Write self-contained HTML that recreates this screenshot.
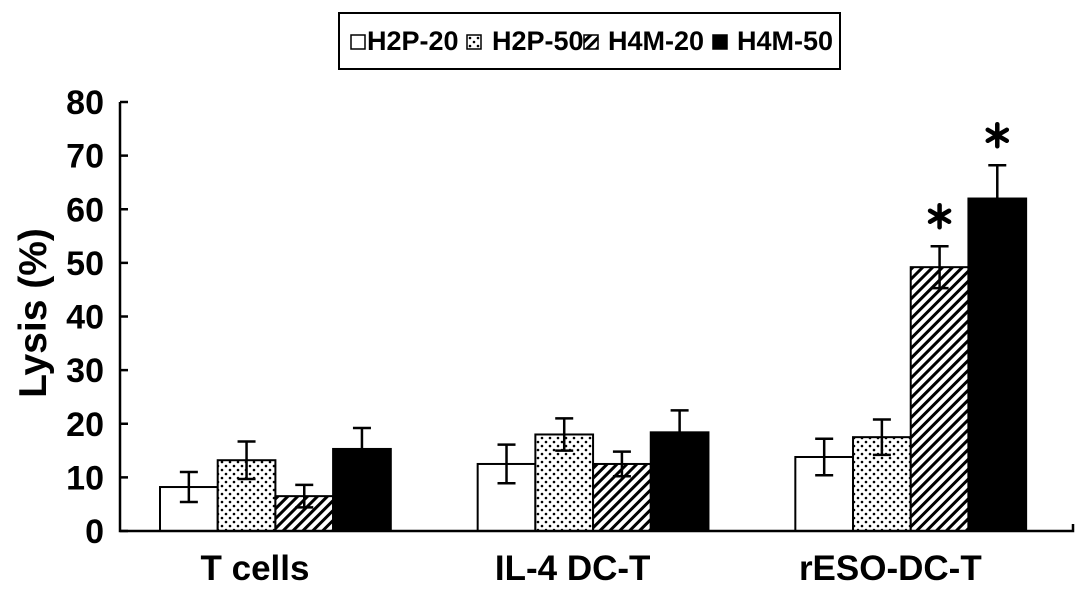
<!DOCTYPE html>
<html><head><meta charset="utf-8"><style>
html,body{margin:0;padding:0;background:#fff;}
svg{display:block;font-family:"Liberation Sans",Arial,sans-serif;font-weight:bold;}
</style></head><body>
<svg id="chart" width="1087" height="599" viewBox="0 0 1087 599" xmlns="http://www.w3.org/2000/svg">
<defs>
<pattern id="dots" patternUnits="userSpaceOnUse" width="8" height="8">
<rect width="8" height="8" fill="#fff"/><circle cx="2" cy="2" r="1.3" fill="#000"/><circle cx="6" cy="6" r="1.3" fill="#000"/>
</pattern>
<pattern id="hatch" patternUnits="userSpaceOnUse" width="7" height="7" patternTransform="rotate(45)">
<rect width="7" height="7" fill="#fff"/><rect x="0" y="0" width="3" height="7" fill="#000"/>
</pattern>
</defs>
<g id="plot"></g>
</svg>
<script>
const categories = ["T cells", "IL-4 DC-T", "rESO-DC-T"];
const seriesNames = ["H2P-20", "H2P-50", "H4M-20", "H4M-50"];
const h2p20 = [8.2, 12.5, 13.8];
const h2p50 = [13.2, 18.0, 17.5];
const h4m20 = [6.5, 12.5, 49.2];
const h4m50 = [15.3, 18.4, 62.0];
const h2p20Err = [2.8, 3.6, 3.4];
const h2p50Err = [3.5, 3.0, 3.3];
const h4m20Err = [2.1, 2.3, 3.9];
const h4m50Err = [3.9, 4.1, 6.2];
const yTicks = [0, 10, 20, 30, 40, 50, 60, 70, 80];
const significant = [[false,false,false],[false,false,false],[false,false,true],[false,false,true]];

const NS = "http://www.w3.org/2000/svg";
const svg = document.getElementById("chart");
const plot = document.getElementById("plot");
const x0 = 120, xEnd = 1073, y0 = 531, yTop = 102, yMax = 80;
const groupW = (xEnd - x0) / categories.length;
const barW = 57.7;
function yScale(v){ return y0 - (v / yMax) * (y0 - yTop); }
function barX(ci, si){ return x0 + 40 + ci * groupW + si * barW; }
function mk(tag, attrs, parent){ const e = document.createElementNS(NS, tag); for (const k in attrs) e.setAttribute(k, attrs[k]); (parent||plot).appendChild(e); return e; }

const values = [h2p20, h2p50, h4m20, h4m50];
const errs = [h2p20Err, h2p50Err, h4m20Err, h4m50Err];
const fills = ["#fff", "url(#dots)", "url(#hatch)", "#000"];

for (let s = 0; s < 4; s++) {
  for (let c = 0; c < categories.length; c++) {
    const v = values[s][c], x = barX(c, s), y = yScale(v);
    const r = mk("rect", {x: x, y: y, width: barW, height: y0 - y, fill: fills[s], stroke: "#000", "stroke-width": 2});
    
    
    const cx = x + barW / 2, e = errs[s][c];
    const yt = yScale(v + e), yb = s === 3 ? y : yScale(v - e);
    const eb = mk("path", {d: `M${cx},${yt}V${yb}M${cx-9},${yt}H${cx+9}` + (s===3 ? "" : `M${cx-9},${yb}H${cx+9}`), stroke: "#000", "stroke-width": 2.5, fill: "none"});
    
    
    if (significant[s][c]) {
      const ay = yt - 30;
      const g = mk("g", {stroke: "#000", "stroke-width": 4.5, "stroke-linecap": "round"});
      
      
      for (let a = 0; a < 3; a++) {
        const ang = Math.PI / 2 + a * Math.PI / 3;
        mk("line", {x1: cx - 11*Math.cos(ang), y1: ay - 11*Math.sin(ang), x2: cx + 11*Math.cos(ang), y2: ay + 11*Math.sin(ang)}, g);
      }
    }
  }
}

const ax = mk("path", {d: `M${x0},${yTop}V${y0}H${xEnd}V${y0-7}`, stroke: "#000", "stroke-width": 2.5, fill: "none"});


for (const t of yTicks) {
  const y = yScale(t);
  mk("line", {x1: x0, x2: x0 + 8, y1: y, y2: y, stroke: "#000", "stroke-width": 2.5});
  const tx = mk("text", {x: 104, y: y + 12, "text-anchor": "end", "font-size": 34});
  tx.textContent = t;
  
  
}
for (let c = 0; c < categories.length; c++) {
  const tx = mk("text", {x: x0 + 135 + c * groupW, y: 580, "text-anchor": "middle", "font-size": 35});
  tx.textContent = categories[c];
  
  
}
const yt = mk("text", {x: 0, y: 0, transform: "translate(46,313) rotate(-90)", "text-anchor": "middle", "font-size": 39});
yt.textContent = "Lysis (%)";



const lg = mk("g", {});


mk("rect", {x: 339, y: 13, width: 501, height: 56, fill: "#fff", stroke: "#000", "stroke-width": 2}, lg);
const lgSwX = [351, 467, 584, 713];
const lgTxX = [367, 492, 608, 737];
for (let s = 0; s < 4; s++) {
  mk("rect", {x: lgSwX[s], y: 35, width: 14, height: 14, fill: fills[s], stroke: "#000", "stroke-width": 1.5}, lg);
  const tx = mk("text", {x: lgTxX[s], y: 50, "font-size": 27}, lg);
  tx.textContent = seriesNames[s];
  
  
}
</script>
</body></html>
